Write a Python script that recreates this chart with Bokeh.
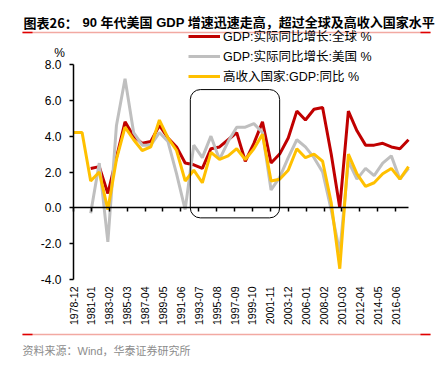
import numpy as np
from bokeh.plotting import figure
from bokeh.models import (Range1d, FixedTicker, Label, Arrow, Legend, LegendItem,
                          BoxAnnotation, NumeralTickFormatter, LinearAxis)
from bokeh.embed import file_html
from bokeh.resources import INLINE

nan = float("nan")

years = list(range(1978, 2018))

world = [nan, nan, 2.2, 2.3, 0.8, 2.8, 4.8, 4.0, 3.6, 3.7,
         4.6, 3.9, 3.4, 2.5, 2.4, 2.2, 3.3, 3.4, 3.8, 4.2,
         2.6, 3.6, 4.8, 2.5, 3.0, 3.9, 5.4, 4.9, 5.5, 5.6,
         3.0, 0.0, 5.4, 4.3, 3.5, 3.5, 3.6, 3.4, 3.3, 3.8]

usa = [nan, nan, -0.3, 2.5, -1.9, 4.6, 7.2, 4.2, 3.5, 3.5,
       4.2, 3.7, 1.9, -0.1, 3.5, 2.8, 4.0, 2.7, 3.7, 4.5,
       4.5, 4.7, 4.2, 1.0, 1.7, 2.8, 3.8, 3.4, 2.8, 2.0,
       -0.1, -2.5, 2.6, 1.6, 2.2, 1.8, 2.5, 2.9, 1.6, 2.2]

high_income = [4.2, 4.2, 1.5, 2.0, -0.1, 2.7, 4.5, 3.8, 3.2, 3.4,
               4.9, 3.9, 3.2, 1.5, 2.1, 1.4, 3.1, 2.7, 2.9, 3.3,
               2.7, 3.3, 4.1, 1.5, 1.6, 2.1, 3.3, 2.8, 3.0, 2.6,
               0.3, -3.4, 3.0, 1.9, 1.2, 1.4, 1.9, 2.2, 1.6, 2.3]

tick_labels = ["1978-12", "1981-01", "1983-02", "1985-03", "1987-04", "1989-05",
               "1991-06", "1993-07", "1995-08", "1997-09", "1999-10", "2001-11",
               "2003-12", "2006-01", "2008-02", "2010-03", "2012-04", "2014-05",
               "2016-06"]
y_ticks = [-4, -2, 0, 2, 4, 6, 8]

series_names = ["GDP:实际同比增长:全球 %", "GDP:实际同比增长:美国 %", "高收入国家:GDP:同比 %"]
series_colors = ["#C00000", "#BFBFBF", "#FFC000"]

title_head = "图表26："
title_text = "90 年代美国 GDP 增速迅速走高，超过全球及高收入国家水平"
source_text = "资料来源：Wind，华泰证券研究所"

# highlighted period (years) and value span of the rounded box
box_years = (1991.6, 2002.0)
box_values = (-0.56, 6.6)

# x is months since 1978-12
x = [(y - 1978) * 12 for y in years]
tick_pos = [i * 25 for i in range(len(tick_labels))]
X_MAX = 468

# ---- layout: the frame covers the whole canvas; axes are placed at fixed locations
W, H = 444, 364
AX_L, AX_R = 73, 408      # canvas px of x = 0 and x = X_MAX
AX_T, AX_B = 64, 279      # canvas px of y = 8 and y = -4
mx = X_MAX / (AX_R - AX_L)
vy = 12 / (AX_B - AX_T)


def px_x(px):
    return (px - AX_L) * mx


def px_y(py):
    return 8 - (py - AX_T) * vy


LAT = "Liberation Sans, Arial, Noto Sans CJK SC"

p = figure(width=W, height=H, output_backend="svg", toolbar_location=None,
           x_range=Range1d(px_x(0), px_x(W)), y_range=Range1d(px_y(H), px_y(0)),
           x_axis_location=None, y_axis_location=None,
           min_border=0, min_border_left=0, min_border_right=0,
           min_border_top=0, min_border_bottom=0)
p.outline_line_color = None
p.grid.grid_line_color = None

# y axis at x = 0
ya = LinearAxis(fixed_location=0, bounds=(-4, 8), ticker=FixedTicker(ticks=y_ticks),
                formatter=NumeralTickFormatter(format="0.0"))
ya.axis_line_color = "black"
ya.axis_line_width = 1.5
ya.major_tick_line_color = "black"
ya.major_tick_line_width = 1.5
ya.major_tick_in = 0
ya.major_tick_out = 4
ya.minor_tick_line_color = None
ya.major_label_text_font = LAT
ya.major_label_text_font_size = "12px"
ya.major_label_text_color = "black"
ya.major_label_standoff = 8
p.add_layout(ya, "left")

# zero axis with downward ticks (no labels)
za = LinearAxis(fixed_location=0, bounds=(0, X_MAX), ticker=FixedTicker(ticks=tick_pos))
za.axis_line_color = "black"
za.axis_line_width = 1.5
za.major_tick_line_color = "black"
za.major_tick_line_width = 1.5
za.major_tick_in = 0
za.major_tick_out = 4
za.minor_tick_line_color = None
za.major_label_text_font_size = "0px"
za.major_label_text_alpha = 0
p.add_layout(za, "below")

# category labels at the bottom of the value range
xa = LinearAxis(fixed_location=-4, bounds=(0, X_MAX), ticker=FixedTicker(ticks=tick_pos))
xa.major_label_overrides = {tp: lab for tp, lab in zip(tick_pos, tick_labels)}
xa.major_label_orientation = np.pi / 2
xa.axis_line_color = None
xa.major_tick_line_color = None
xa.minor_tick_line_color = None
xa.major_tick_in = 0
xa.major_tick_out = 0
xa.major_label_standoff = 7
xa.major_label_text_font = LAT
xa.major_label_text_font_size = "10.5px"
xa.major_label_text_color = "black"
p.add_layout(xa, "below")

# rounded highlight box
p.add_layout(BoxAnnotation(left=(box_years[0] - 1978) * 12, right=(box_years[1] - 1978) * 12,
                           bottom=box_values[0], top=box_values[1],
                           fill_color=None, fill_alpha=0, line_color="black", line_alpha=1,
                           line_width=1, border_radius=10))

renderers = []
for vals, col in zip([world, usa, high_income], series_colors):
    r = p.line(x, vals, line_color=col, line_width=3)
    renderers.append(r)

legend = Legend(items=[LegendItem(label=n, renderers=[r]) for n, r in zip(series_names, renderers)],
                location=(188, H - 85), border_line_color=None, background_fill_alpha=0,
                padding=0, margin=0, spacing=1, glyph_width=32, glyph_height=16,
                label_height=16, label_standoff=3, label_text_font_size="12.5px",
                label_text_font=LAT, label_text_color="black")
p.add_layout(legend)

# texts
p.add_layout(Label(x=px_x(59), y=px_y(52), text="%",
                   text_font=LAT, text_font_size="12px", text_align="center",
                   text_baseline="middle", text_color="black"))
p.add_layout(Label(x=px_x(23), y=px_y(22), text=title_head,
                   text_font="Noto Sans CJK SC", text_font_size="13px", text_font_style="bold",
                   text_align="left", text_baseline="middle", text_color="black"))
p.add_layout(Label(x=px_x(82), y=px_y(22), text=title_text,
                   text_font="Liberation Sans, Noto Sans CJK SC", text_font_size="13px",
                   text_font_style="bold", text_align="left", text_baseline="middle",
                   text_color="black"))
p.add_layout(Label(x=px_x(22), y=px_y(350), text=source_text,
                   text_font="Liberation Sans, Noto Sans CJK SC", text_font_size="11px",
                   text_align="left", text_baseline="middle", text_color="#8C8C8C"))

for yy in (32, 334):
    p.add_layout(Arrow(x_start=px_x(22), y_start=px_y(yy), x_end=px_x(430), y_end=px_y(yy),
                       end=None, line_color="#F2A9A2", line_width=1.5))
    for xs, xe in ((22, 32), (420, 430)):
        p.add_layout(Arrow(x_start=px_x(xs), y_start=px_y(yy), x_end=px_x(xe), y_end=px_y(yy),
                           end=None, line_color="#E00000", line_width=1.5))

open("out.html", "w").write(file_html(p, INLINE))
